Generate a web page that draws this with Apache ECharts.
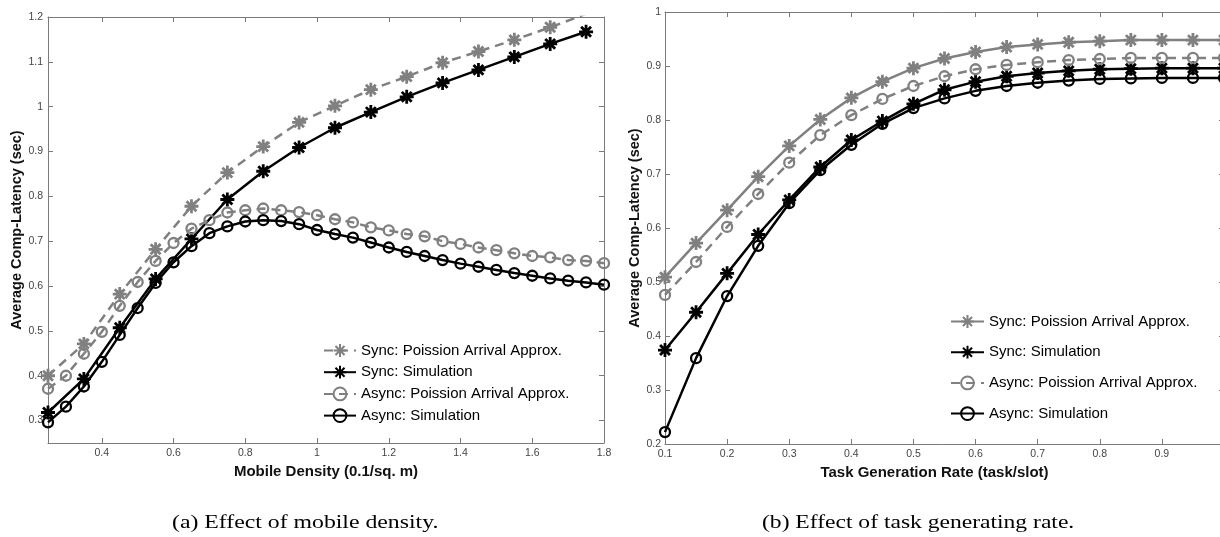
<!DOCTYPE html>
<html>
<head>
<meta charset="utf-8">
<script src="https://cdn.jsdelivr.net/npm/echarts@6/dist/echarts.min.js"></script>
<style>
html,body{margin:0;padding:0;background:#fff;}
#c{width:1220px;height:537px;}
</style>
</head>
<body>
<div id="c"></div>
<script>
// ---------- data ----------
const seriesNames = ['Sync: Poission Arrival Approx.', 'Sync: Simulation', 'Async: Poission Arrival Approx.', 'Async: Simulation'];

// (a) Effect of mobile density
const densitySync = [0.25,0.35,0.45,0.55,0.65,0.75,0.85,0.95,1.05,1.15,1.25,1.35,1.45,1.55,1.65,1.75];
const aSyncApprox = [0.400,0.471,0.582,0.682,0.778,0.853,0.911,0.965,1.002,1.038,1.067,1.098,1.123,1.149,1.177,1.207];
const aSyncSim    = [0.318,0.393,0.507,0.616,0.705,0.793,0.856,0.909,0.953,0.988,1.022,1.053,1.082,1.111,1.140,1.167];
const densityAsync = [0.25,0.30,0.35,0.40,0.45,0.50,0.55,0.60,0.65,0.70,0.75,0.80,0.85,0.90,0.95,1.00,1.05,1.10,1.15,1.20,1.25,1.30,1.35,1.40,1.45,1.50,1.55,1.60,1.65,1.70,1.75,1.80];
const aAsyncApprox = [0.371,0.400,0.449,0.498,0.556,0.609,0.656,0.696,0.728,0.747,0.764,0.769,0.773,0.769,0.765,0.758,0.749,0.742,0.731,0.724,0.716,0.711,0.700,0.694,0.686,0.680,0.673,0.667,0.664,0.658,0.656,0.651];
const aAsyncSim    = [0.296,0.331,0.376,0.431,0.491,0.551,0.607,0.653,0.689,0.718,0.733,0.744,0.747,0.745,0.738,0.725,0.716,0.708,0.697,0.686,0.676,0.667,0.658,0.650,0.643,0.636,0.629,0.623,0.617,0.612,0.608,0.603];
const aXTicks = [0.4,0.6,0.8,1.0,1.2,1.4,1.6,1.8];
const aYTicks = [0.3,0.4,0.5,0.6,0.7,0.8,0.9,1.0,1.1,1.2];

// (b) Effect of task generating rate
const rate = [0.10,0.15,0.20,0.25,0.30,0.35,0.40,0.45,0.50,0.55,0.60,0.65,0.70,0.75,0.80,0.85,0.90,0.95,1.00];
const bSyncApprox  = [0.509,0.572,0.633,0.695,0.752,0.801,0.841,0.871,0.896,0.914,0.926,0.935,0.940,0.944,0.946,0.948,0.948,0.948,0.948];
const bSyncSim     = [0.374,0.444,0.516,0.588,0.652,0.713,0.763,0.798,0.830,0.856,0.871,0.881,0.887,0.891,0.894,0.895,0.896,0.896,0.896];
const bAsyncApprox = [0.476,0.537,0.602,0.663,0.721,0.772,0.809,0.839,0.863,0.881,0.894,0.902,0.907,0.911,0.913,0.915,0.915,0.915,0.915];
const bAsyncSim    = [0.222,0.359,0.474,0.567,0.646,0.707,0.754,0.793,0.822,0.840,0.854,0.863,0.869,0.873,0.876,0.877,0.878,0.878,0.878];
const bXTicks = [0.1,0.2,0.3,0.4,0.5,0.6,0.7,0.8,0.9,1.0];
const bXLabels = [0.1,0.2,0.3,0.4,0.5,0.6,0.7,0.8,0.9];
const bYTicks = [0.2,0.3,0.4,0.5,0.6,0.7,0.8,0.9,1.0];

const captions = ['(a) Effect of mobile density.', '(b) Effect of task generating rate.'];
const xNames = ['Mobile Density (0.1/sq. m)', 'Task Generation Rate (task/slot)'];
const yName = 'Average Comp-Latency (sec)';

// ---------- styles ----------
const GRAY = '#808080', BLACK = '#000000', AXIS = '#7a7a7a', LABEL = '#444444';
const FONT = '"Liberation Sans", Arial, Helvetica, sans-serif';
const STAR = 'path://M0,-10L0,10M-10,0L10,0M-7.07,-7.07L7.07,7.07M-7.07,7.07L7.07,-7.07';
const fmt = v => String(+(+v).toFixed(2));

function pairs(xs, ys){ return xs.map((x,i)=>[x, ys[i]]); }

function mkSeries(name, xs, ys, color, marker, dashed, idx){
  const isStar = marker === 'star';
  return {
    type:'line', name, xAxisIndex: idx, yAxisIndex: idx,
    data: pairs(xs, ys), color,
    symbol: isStar ? STAR : 'circle',
    symbolSize: isStar ? 14 : 10,
    showAllSymbol: true,
    clip: true,
    lineStyle:{ color, width: 2.5, type: dashed ? [9,6] : 'solid' },
    itemStyle:{ color: isStar ? color : 'rgba(255,255,255,0)', borderColor: color, borderWidth: isStar ? 2.8 : 2.3 },
    emphasis:{ disabled:true },
    animation:false
  };
}

function xAx(gi, min, max, ticks, labels, pos, show){
  return {
    type:'value', gridIndex: gi, position: pos, min, max,
    axisLine:{ show:true, onZero:false, lineStyle:{ color: AXIS, width:1 } },
    axisTick:{ show:true, inside:true, length:5, customValues: ticks, lineStyle:{ color: AXIS } },
    axisLabel:{ show: show, customValues: labels, margin:5, color: LABEL, fontSize:10.5, fontFamily: FONT, formatter: fmt },
    splitLine:{ show:false }
  };
}
function yAx(gi, min, max, ticks, pos, show, margin){
  return {
    type:'value', gridIndex: gi, position: pos, min, max,
    axisLine:{ show:true, onZero:false, lineStyle:{ color: AXIS, width:1 } },
    axisTick:{ show:true, inside:true, length:5, customValues: ticks, lineStyle:{ color: AXIS } },
    axisLabel:{ show: show, customValues: ticks, margin: margin, color: LABEL, fontSize:10.5, fontFamily: FONT, formatter: fmt },
    splitLine:{ show:false }
  };
}

const xAxes = [
  Object.assign(xAx(0, 0.25, 1.8, aXTicks, aXTicks, 'bottom', true), { name: xNames[0], nameLocation:'middle', nameGap:13,
    nameTextStyle:{ fontSize:15, fontWeight:'bold', color:'#111', fontFamily: FONT } }),
  xAx(0, 0.25, 1.8, aXTicks, aXTicks, 'top', false),
  Object.assign(xAx(1, 0.1, 1.0, bXTicks, bXLabels, 'bottom', true), { name: xNames[1], nameLocation:'middle', nameGap:13,
    nameTextStyle:{ fontSize:15, fontWeight:'bold', color:'#111', fontFamily: FONT, padding:[0,20,0,0] } }),
  xAx(1, 0.1, 1.0, bXTicks, bXLabels, 'top', false)
];
const yAxes = [
  Object.assign(yAx(0, 0.25, 1.2, aYTicks, 'left', true, 5), { name: yName, nameLocation:'middle', nameGap:22,
    nameTextStyle:{ fontSize:14.5, fontWeight:'bold', color:'#111', fontFamily: FONT } }),
  yAx(0, 0.25, 1.2, aYTicks, 'right', false, 5),
  Object.assign(yAx(1, 0.2, 1.0, bYTicks, 'left', true, 4), { name: yName, nameLocation:'middle', nameGap:21,
    nameTextStyle:{ fontSize:14.5, fontWeight:'bold', color:'#111', fontFamily: FONT } }),
  yAx(1, 0.2, 1.0, bYTicks, 'right', false, 4)
];

const series = [
  mkSeries(seriesNames[0], densitySync, aSyncApprox, GRAY, 'star', true, 0),
  mkSeries(seriesNames[1], densitySync, aSyncSim, BLACK, 'star', false, 0),
  mkSeries(seriesNames[2], densityAsync, aAsyncApprox, GRAY, 'circle', true, 0),
  mkSeries(seriesNames[3], densityAsync, aAsyncSim, BLACK, 'circle', false, 0),
  mkSeries(seriesNames[0], rate, bSyncApprox, GRAY, 'star', false, 2),
  mkSeries(seriesNames[1], rate, bSyncSim, BLACK, 'star', false, 2),
  mkSeries(seriesNames[2], rate, bAsyncApprox, GRAY, 'circle', true, 2),
  mkSeries(seriesNames[3], rate, bAsyncSim, BLACK, 'circle', false, 2)
];

const legendText = { fontSize:15, color:'#000', fontFamily: FONT };
const option = {
  backgroundColor:'#fff',
  animation:false,
  grid:[
    { left:48, top:17, width:556, height:426, outerBoundsMode:'none', containLabel:false },
    { left:665, top:12, width:559, height:432, outerBoundsMode:'none', containLabel:false }
  ],
  xAxis: xAxes,
  yAxis: yAxes,
  legend:[
    { orient:'vertical', left:318, top:338, itemWidth:32, itemHeight:16, itemGap:6.7, textStyle: legendText,
      selectedMode:false, data: seriesNames.slice() },
    { orient:'vertical', left:945, top:309, itemWidth:33, itemHeight:16, itemGap:15.7, textStyle: legendText,
      selectedMode:false,
      data: [ { name: seriesNames[0], lineStyle:{ type:'solid' } }, seriesNames[1], seriesNames[2], seriesNames[3] ] }
  ],
  series,
  graphic:[
    { type:'text', left:172, top:514, style:{ text: captions[0], font:'19px "Liberation Serif", "Times New Roman", serif', fill:'#000' }, scaleX:1.25 },
    { type:'text', left:762, top:514, style:{ text: captions[1], font:'19px "Liberation Serif", "Times New Roman", serif', fill:'#000' }, scaleX:1.24 }
  ]
};
const chart = echarts.init(document.getElementById('c'), null, { renderer:'canvas' });
chart.setOption(option);
</script>
</body>
</html>
